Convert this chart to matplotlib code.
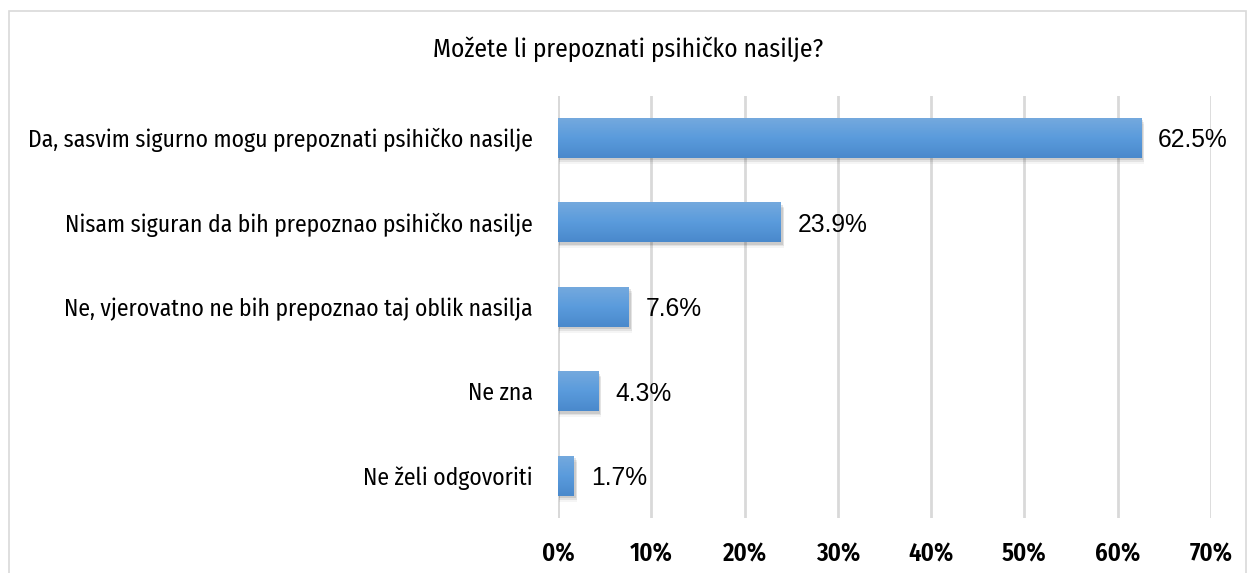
import matplotlib
matplotlib.use("Agg")
import matplotlib.pyplot as plt
import numpy as np
from matplotlib import font_manager as fm
from matplotlib.patches import Rectangle
from matplotlib.colors import LinearSegmentedColormap

categories = [
    "Da, sasvim sigurno mogu prepoznati psihičko nasilje",
    "Nisam siguran da bih prepoznao psihičko nasilje",
    "Ne, vjerovatno ne bih prepoznao taj oblik nasilja",
    "Ne zna",
    "Ne želi odgovoriti",
]
values = [62.5, 23.9, 7.6, 4.3, 1.7]
value_labels = ["62.5%", "23.9%", "7.6%", "4.3%", "1.7%"]
xticks = [0, 10, 20, 30, 40, 50, 60, 70]
xtick_labels = ["0%", "10%", "20%", "30%", "40%", "50%", "60%", "70%"]
title = "Možete li prepoznati psihičko nasilje?"

names = {f.name for f in fm.fontManager.ttflist}
cond = "Fira Sans Condensed" if "Fira Sans Condensed" in names else (
    "Archivo Narrow" if "Archivo Narrow" in names else "DejaVu Sans")
narrow = [cond, "DejaVu Sans"]

W, H = 1248, 573
fig = plt.figure(figsize=(W / 100, H / 100), dpi=100)
fig.patch.set_facecolor("white")
renderer = fig.canvas.get_renderer()


def fit(t, target_px):
    w = t.get_window_extent(renderer).width
    t.set_fontsize(t.get_fontsize() * target_px / w)


fig.patches.append(Rectangle((9 / W, -0.05), (1246 - 9) / W, (573 - 11) / H + 0.05,
                             transform=fig.transFigure, fill=False,
                             edgecolor="#d9d9d9", linewidth=1.2))

ax = fig.add_axes([558 / W, 1 - 518 / H, (1211 - 558) / W, (518 - 95.5) / H])
n = len(categories)
ypos = np.arange(n)
ax.set_ylim(n - 0.5, -0.5)
ax.set_xlim(0, 70)

bh = 0.47
grad = np.linspace(0, 1, 64).reshape(-1, 1)
cmap = LinearSegmentedColormap.from_list("g", ["#74a9de", "#5a9bdc", "#4a89cc"])
vtexts = []
for y, v, lab in zip(ypos, values, value_labels):
    for k, a in enumerate([0.10, 0.07, 0.04]):
        ax.add_patch(Rectangle((0.1, y - bh / 2 + 0.03 + k * 0.02), v + 0.15 + k * 0.05, bh,
                               facecolor="black", alpha=a, edgecolor="none", zorder=2))
    bar = ax.barh(y, v, height=bh, color="#5b9bd5", zorder=3)[0]
    im = ax.imshow(grad, extent=[0, v, y + bh / 2, y - bh / 2], aspect="auto",
                   cmap=cmap, zorder=4)
    im.set_clip_path(bar)
    vtexts.append(ax.text(v + 1.8, y, lab, va="center_baseline", ha="left", fontsize=17,
                          family="Liberation Sans", color="black", zorder=5))
fit(vtexts[0], 70)
for t in vtexts[1:]:
    t.set_fontsize(vtexts[0].get_fontsize())

ax.set_xticks(xticks)
xl = ax.set_xticklabels(xtick_labels, fontsize=16, family=narrow, fontweight=600)
ax.set_yticks(ypos)
yl = ax.set_yticklabels(categories, fontsize=16, family=narrow)
ax.tick_params(axis="both", length=0, colors="black")
ax.tick_params(axis="x", pad=17)
ax.tick_params(axis="y", pad=18)
ax.xaxis.grid(True, color="#d9d9d9", linewidth=2)
ax.set_axisbelow(True)
for s in ax.spines.values():
    s.set_visible(False)
ax.axvline(0, color="#d9d9d9", linewidth=2, zorder=1)

fig.canvas.draw()
fit(xl[-1], 43)
for t in xl:
    t.set_fontsize(xl[-1].get_fontsize())
fit(yl[0], 506)
for t in yl:
    t.set_fontsize(yl[0].get_fontsize())

tt = fig.text(628 / W, 1 - 49 / H, title, ha="center", va="center", fontsize=16, family=narrow)
fit(tt, 390)

fig.savefig("out.png", dpi=100, facecolor="white")
